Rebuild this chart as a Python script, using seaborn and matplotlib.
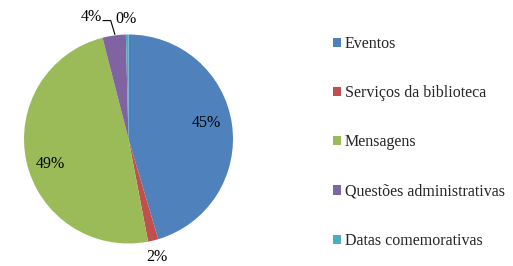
import numpy as np
import seaborn as sns
import matplotlib.pyplot as plt

# data (percent shares)
categories = ["Eventos", "Serviços da biblioteca", "Mensagens",
              "Questões administrativas", "Datas comemorativas"]
shares = [45.4, 1.6, 49.0, 3.6, 0.4]
colors = ["#4F81BD", "#C0504D", "#9BBB59", "#8064A2", "#4BACC6"]

# label offsets (fraction of radius) - inside / outside like the original
label_pos = [(0.75, 0.15), (0.27, -1.13), (-0.75, -0.24), (-0.36, 1.17), (-0.02, 1.15)]

sns.set_style("white")
plt.rcParams["font.family"] = ["Liberation Serif", "DejaVu Serif"]

fig = plt.figure(figsize=(5.13, 2.66), dpi=100)
W, H = 513, 266
cx, cy, r = 128.5, 139, 104.5
ax = fig.add_axes([(cx - r) / W, (H - cy - r) / H, 2 * r / W, 2 * r / H])

wedges, _ = ax.pie(shares, colors=sns.color_palette(colors), startangle=90,
                   counterclock=False, radius=1,
                   wedgeprops=dict(linewidth=0))
ax.set_xlim(-1, 1)
ax.set_ylim(-1, 1)
ax.set_aspect("equal")
ax.axis("off")

total = sum(shares)
for val, (lx, ly) in zip(shares, label_pos):
    ax.text(lx, ly, "%d%%" % round(val / total * 100), ha="center", va="center",
            fontsize=11.5, color="black", clip_on=False)

# leader line for the small "4%" slice
ax.plot([-0.245, -0.17, -0.13], [1.133, 1.133, 1.0], color="black", lw=0.8,
        clip_on=False)

leg = fig.legend(wedges, categories, loc="upper left",
                 bbox_to_anchor=(325 / W, 1 - 28 / H), frameon=False,
                 fontsize=11.5, handlelength=0.5, handleheight=0.5,
                 handletextpad=0.25, labelspacing=2.08, borderpad=0)

fig.savefig("out.png", dpi=100)
